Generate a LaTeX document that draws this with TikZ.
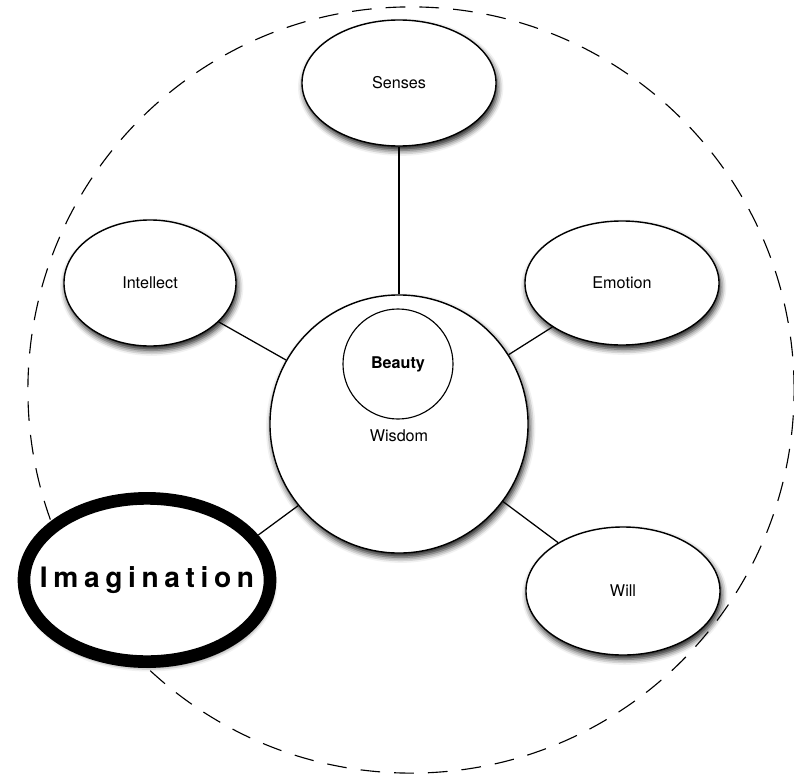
\documentclass[tikz,border=0pt]{standalone}
\usepackage{fontspec}
\setmainfont{TeX Gyre Heros}
\newfontfamily\imaginationfont[LetterSpace=20]{TeX Gyre Heros}
\usetikzlibrary{shapes.geometric,shadows.blur}
\tikzset{
    faculty/.style={shape=ellipse,draw=black,line width=1pt,fill=white,
        blur shadow={shadow xshift=1.2pt,shadow yshift=-3pt,shadow blur radius=4pt,shadow opacity=90},
        font=\fontsize{11.5}{14}\selectfont},
}
\begin{document}
\begin{tikzpicture}[x=0.025cm,y=-0.025cm]
    \useasboundingbox (0,0) rectangle (794,775);
    \draw[dash pattern=on 14pt off 10pt,line width=0.8pt] (411,390) circle (9.575cm);

    \node[faculty,minimum width=4.85cm,minimum height=3.15cm] (S) at (399,83) {Senses};
    \node[faculty,minimum width=4.3cm,minimum height=3.15cm] (I) at (150,283) {Intellect};
    \node[faculty,minimum width=4.85cm,minimum height=3.1cm] (E) at (622,283) {Emotion};
    \node[faculty,minimum width=4.85cm,minimum height=3.2cm] (Wi) at (623,591) {Will};
    \node[faculty,line width=9pt,minimum width=6.15cm,minimum height=4.08cm,
        label={[font=\fontsize{20}{24}\imaginationfont\bfseries]center:Imagination}] (Im) at (147,580) {};
    \node[faculty,shape=circle,minimum size=6.45cm,
        label={[font=\fontsize{11.5}{14}\selectfont,yshift=-8pt]center:Wisdom}] (W) at (399,424) {};
    \node[shape=circle,draw=black,line width=0.8pt,fill=white,minimum size=2.75cm,
        font=\fontsize{11.5}{14}\selectfont\bfseries] (B) at (398,364) {Beauty};

    \path [-,line width=0.9pt] (S) edge[] (W);
    \path [-,line width=0.9pt] (I) edge[] (W);
    \path [-,line width=0.9pt] (E) edge[] (W);
    \path [-,line width=0.9pt] (Wi) edge[] (W);
    \path [-,line width=0.9pt] (Im.22) edge[] (W.219.5);
\end{tikzpicture}
\end{document}
